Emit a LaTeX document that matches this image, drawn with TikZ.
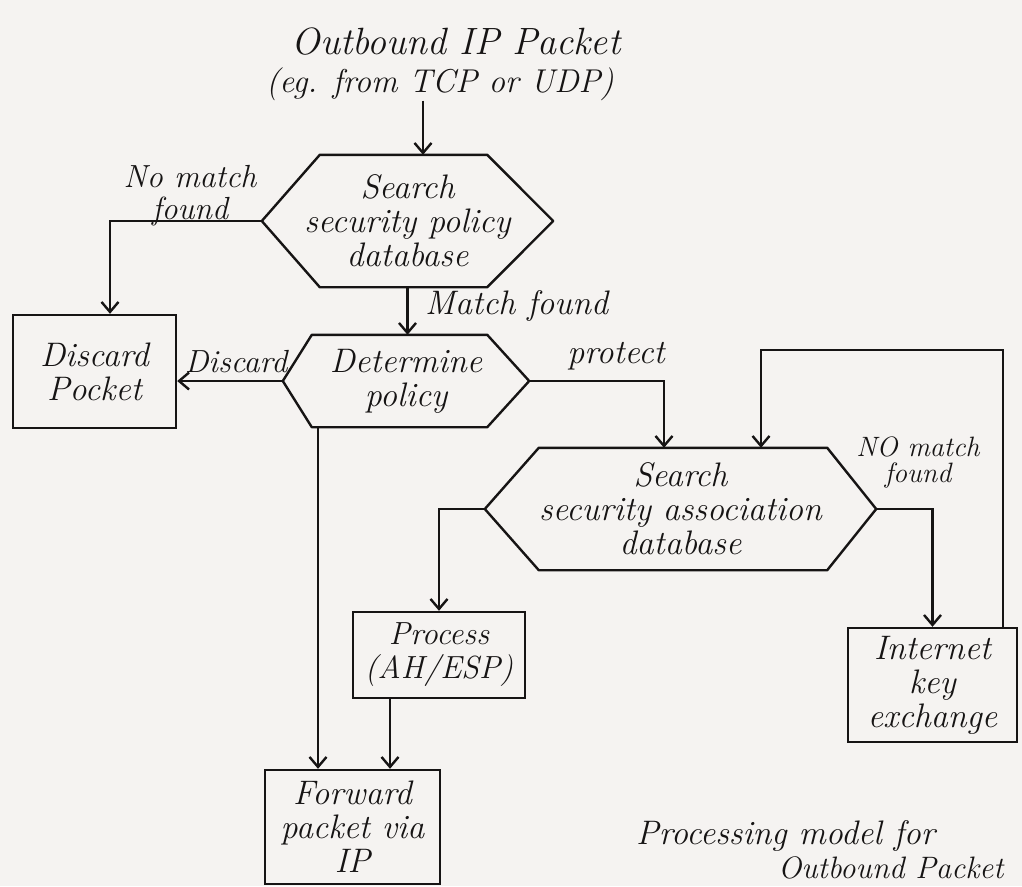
\documentclass[tikz,border=0pt]{standalone}
\usetikzlibrary{arrows.meta}
\definecolor{paper}{RGB}{245,243,241}
\definecolor{ink}{RGB}{22,20,20}
% outline of an elongated hexagon around a rectangular node:
% #1 node name, #2 depth of the left point, #3 depth of the right point
\newcommand\hexoutline[3]{%
  \draw[link, line join=round] (#1.west) -- ([xshift=#2]#1.north west)
    -- ([xshift=-#3]#1.north east) -- (#1.east)
    -- ([xshift=-#3]#1.south east) -- ([xshift=#2]#1.south west) -- cycle;}
\begin{document}
\begin{tikzpicture}[x=1pt,y=-1pt,
  hand/.style={font=\fontsize{34}{34}\selectfont\itshape, text=ink},
  box/.style={hand, draw=ink, line width=2.4pt, align=center, inner sep=0pt},
  hexnode/.style={hand, align=center, inner sep=0pt},
  lbl/.style={hand, align=center, inner sep=0pt},
  link/.style={draw=ink, line width=2.4pt},
  arr/.style={link, -{Straight Barb[length=10pt,width=17pt,line width=2.4pt]}},
]
\clip (0,0) rectangle (1022,886);
\fill[paper] (0,0) rectangle (1022,886);

% source of the packet
\node[lbl, font=\fontsize{38}{48}\selectfont\itshape] (src) at (456,42) {Outbound IP Packet};
\node[lbl, font=\fontsize{33}{40}\selectfont\itshape] (srcB) at (440,84) {(eg. from TCP or UDP)};

% decision hexagons
\node[hexnode, minimum width=291pt, minimum height=132pt] (spd) at (407.5,221)
  {Search\\security policy\\database};
\node[hexnode, minimum width=246pt, minimum height=92pt] (pol) at (406,381)
  {Determine\\policy};
\node[hexnode, minimum width=391pt, minimum height=122pt] (sad) at (680.5,509)
  {Search\\security association\\database};
\hexoutline{spd}{58pt}{66pt}
\hexoutline{pol}{29pt}{42pt}
\hexoutline{sad}{54pt}{49pt}

% action boxes
\node[box, minimum width=163pt, minimum height=113pt] (discard) at (94.5,371.5) {Discard\\Pocket};
\node[box, font=\fontsize{32}{34}\selectfont\itshape, minimum width=172pt, minimum height=86pt] (proc) at (439,655) {Process\\(AH/ESP)};
\node[box, minimum width=169pt, minimum height=114pt] (ike) at (932.5,685) {Internet\\key\\exchange};
\node[box, minimum width=175pt, minimum height=114pt] (fwd) at (352.5,827) {Forward\\packet via\\IP};

% helper columns for the vertical runs
\coordinate (inx) at (423,0);
\coordinate (nmx) at (110,0);
\coordinate (prx) at (664,0);
\coordinate (dx)  at (318,0);
\coordinate (px)  at (390,0);
\coordinate (lpx) at (761,0);
\coordinate (lpr) at (1003,350);

% connectors
\draw[arr] (srcB.south -| inx) -- (spd.north -| inx);
\draw[arr] (spd.west) -| (discard.north -| nmx);
\draw[arr] (spd.south) -- (spd.south |- pol.north);
\draw[arr] (pol.west) -- (pol.west -| discard.east);
\draw[arr] (pol.east) -| (sad.north -| prx);
\draw[arr] (pol.south -| dx) -- (fwd.north -| dx);
\draw[arr] (sad.west) -| (proc.north);
\draw[arr] (proc.south -| px) -- (fwd.north -| px);
\draw[arr] (sad.east) -| (ike.north);
\draw[arr] (ike.north -| lpr) -- (lpr) -| (sad.north -| lpx);

% connector labels
\node[lbl, font=\fontsize{32}{32}\selectfont\itshape] (nomatchA) at (190,196) {No match\\found};
\node[lbl, anchor=west] (match) at (425,306) {Match found};
\node[lbl, font=\fontsize{32}{32}\selectfont\itshape] (disc) at (236,362) {Discard};
\node[lbl] (prot) at (616,356) {protect};
\node[lbl, font=\fontsize{28}{26}\selectfont\itshape] (nomatchB) at (918,462) {NO match\\found};

% caption
\node[lbl, anchor=west] (capA) at (636,836) {Processing model for};
\node[lbl, font=\fontsize{31}{31}\selectfont\itshape, anchor=west] (capB) at (778,868) {Outbound Packet};
\end{tikzpicture}
\end{document}
